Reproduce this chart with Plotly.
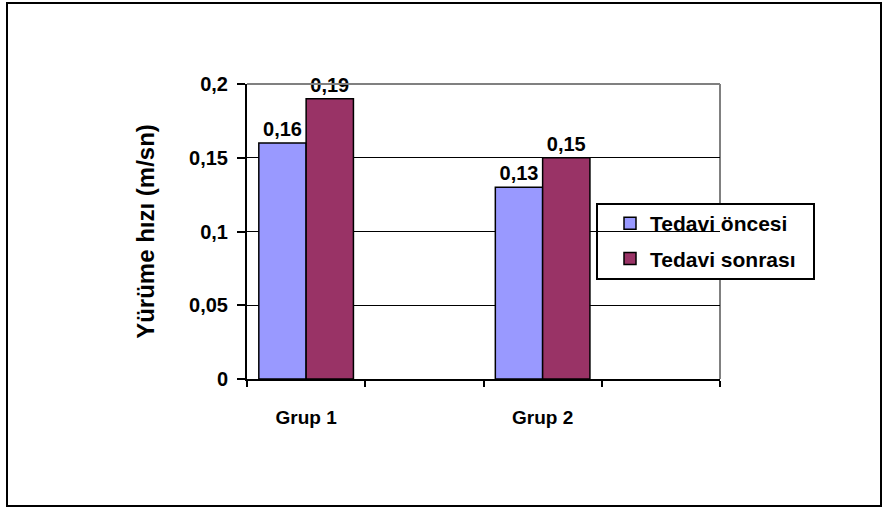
import plotly.graph_objects as go

# Walking speed before/after treatment, per group
groups = ["Grup 1", "Grup 2"]
before = [0.16, 0.13]
after = [0.19, 0.15]
series_names = ["Tedavi öncesi", "Tedavi sonrası"]
y_ticks = [0, 0.05, 0.1, 0.15, 0.2]

W, H = 884, 508
L, R, T, B = 247, 164, 84, 129
pw, ph = W - L - R, H - T - B

FONT = "Liberation Sans, Arial, sans-serif"
FS = 20


def px_x(x):
    return (x - L) / pw


def px_y(y):
    return (H - B - y) / ph


# each group takes every other slot on a four-slot category axis
xpos = [2 * i for i in range(len(groups))]
BAR_W = 0.4

fig = go.Figure()
for k, (name, vals, color) in enumerate([
    (series_names[0], before, "#9999FF"),
    (series_names[1], after, "#993366"),
]):
    fig.add_trace(go.Bar(
        x=xpos, y=vals, name=name, legendgroup=name,
        width=BAR_W, offset=-BAR_W + k * BAR_W,
        marker=dict(color=color, line=dict(color="black", width=1.5)),
        texttemplate="%{y:.2f}", textposition="outside",
        textfont=dict(family=FONT, size=FS, color="black", weight="bold"),
        cliponaxis=False,
    ))

fig.update_layout(
    width=W, height=H,
    margin=dict(l=L, r=R, t=T, b=B),
    paper_bgcolor="white", plot_bgcolor="white",
    separators=",.",
    barmode="overlay",
    showlegend=True,
    legend=dict(
        x=px_x(610), y=px_y(203), xanchor="left", yanchor="top",
        borderwidth=0, bgcolor="rgba(0,0,0,0)",
        font=dict(family=FONT, size=21, color="black", weight="bold"),
        tracegroupgap=5,
    ),
    font=dict(family=FONT, color="black"),
)

fig.update_xaxes(
    range=[-0.5, 3.5],
    tickvals=xpos, ticktext=groups,
    ticks="outside", ticklen=20, tickcolor="rgba(0,0,0,0)",
    tickfont=dict(family=FONT, size=19, color="black", weight="bold"),
    showline=True, linecolor="black", linewidth=2,
    showgrid=False, zeroline=False,
    minor=dict(tickvals=[-0.5, 0.5, 1.5, 2.5, 3.5], ticks="outside",
               ticklen=6, tickcolor="black", tickwidth=2, showgrid=False),
)
fig.update_yaxes(
    range=[0, 0.2], tickvals=y_ticks,
    ticks="outside", ticklen=8, tickcolor="black", tickwidth=2,
    ticklabelstandoff=5,
    tickfont=dict(family=FONT, size=FS, color="black", weight="bold"),
    showline=True, linecolor="black", linewidth=2,
    showgrid=True, gridcolor="black", gridwidth=1.2, zeroline=False,
    title=dict(text="Yürüme hızı (m/sn)", standoff=28,
               font=dict(family=FONT, size=24, color="black", weight="bold")),
)

# gray plot-area border on top and right
fig.add_shape(type="line", xref="paper", yref="paper", x0=0, x1=1, y0=1, y1=1,
              line=dict(color="#808080", width=2))
fig.add_shape(type="line", xref="paper", yref="paper", x0=1, x1=1, y0=0, y1=1,
              line=dict(color="#808080", width=2), layer="below")

# legend frame
fig.add_shape(type="rect", xref="paper", yref="paper",
              x0=px_x(597), x1=px_x(814), y0=px_y(279), y1=px_y(204),
              line=dict(color="black", width=2), fillcolor="white", layer="below")

# outer frame around the whole chart
fig.add_shape(type="rect", xref="paper", yref="paper",
              x0=px_x(7), x1=px_x(881), y0=px_y(506), y1=px_y(3),
              line=dict(color="black", width=2))

fig.write_html("out.html")
